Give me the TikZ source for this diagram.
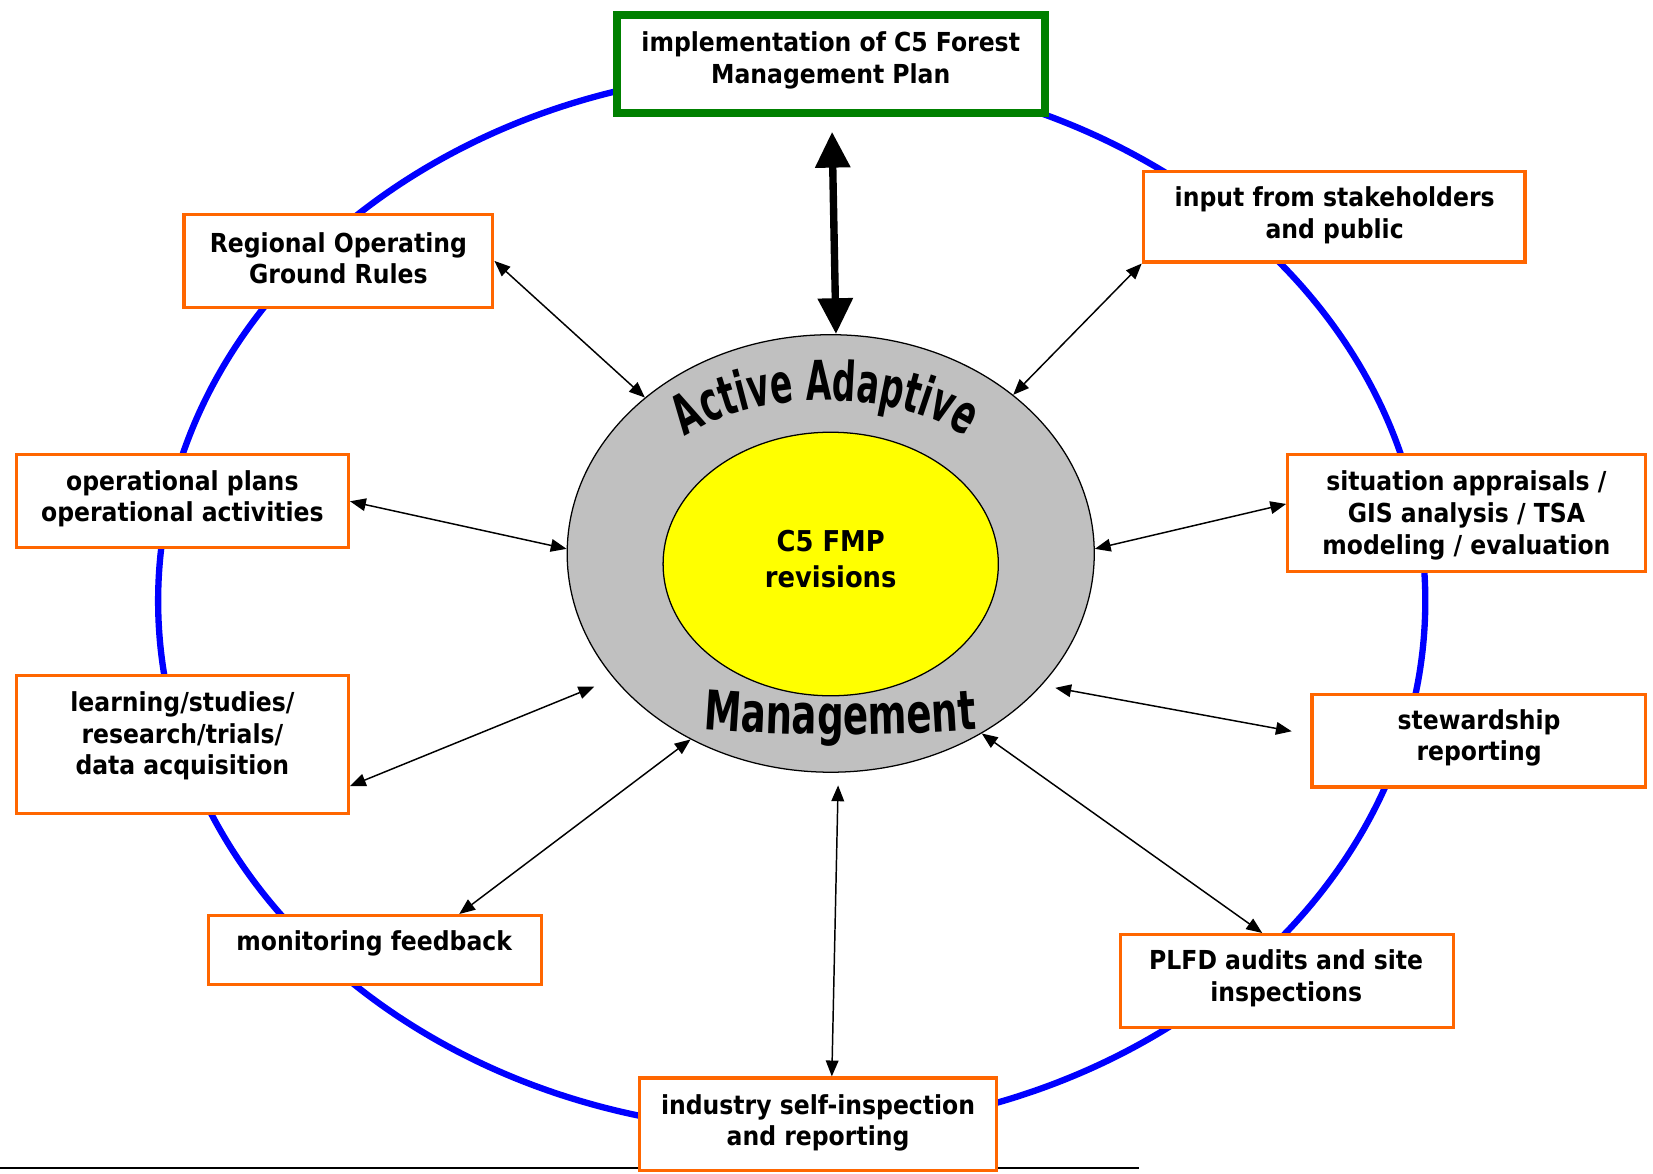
\documentclass[tikz,border=0pt]{standalone}
\usepackage{fontspec}
\setmainfont{DejaVu Sans Condensed}
\newfontfamily\waA{DejaVu Sans Condensed}[FakeStretch=0.67]
\newfontfamily\waB{DejaVu Sans Condensed}[FakeStretch=0.755]
\usetikzlibrary{arrows.meta,shapes.geometric,decorations.text}
\definecolor{orangeC}{HTML}{FF6600}
\definecolor{greenC}{HTML}{008000}
\definecolor{blueC}{HTML}{0000FF}
\definecolor{grayC}{HTML}{C0C0C0}
\definecolor{yellowC}{HTML}{FFFF00}
\newcommand\myLblFont{\bfseries\fontsize{12.4}{15}\selectfont}
\newcommand\myCenFont{\bfseries\fontsize{13.6}{17}\selectfont}
\tikzset{
  obox/.style={draw=orangeC, line width=1.5pt, fill=white, inner sep=0pt},
  gbox/.style={draw=greenC, line width=3.8pt, fill=white, inner sep=0pt},
  lbl/.style={align=center, font=\myLblFont, inner sep=0pt},
  biarrow/.style={line width=0.7pt, {Triangle[length=7.5pt,width=6pt]}-{Triangle[length=7.5pt,width=6pt]}},
  bigarrow/.style={line width=3.5pt, {Triangle[length=17pt,width=16pt]}-{Triangle[length=17pt,width=16pt]}},
}
\begin{document}
\begin{tikzpicture}[x=0.5pt,y=0.5pt]
\useasboundingbox (0,0) rectangle (1568,-1113);
% outer blue cycle
\draw[blueC, line width=3pt] (751,-570) ellipse [x radius=601, y radius=503];
% bottom rule
\coordinate (ruleL) at (0,-1108);
\coordinate (ruleR) at (1080,-1108);
\draw[line width=1pt] (ruleL) -- (ruleR);
% boxes
\node[gbox, minimum width=203.2pt, minimum height=46.7pt] (green) at (788,-60.5) {};
\node[lbl] (greenT) at (788,-57) {implementation of C5 Forest\\Management Plan};
\node[obox, minimum width=181pt, minimum height=43pt] (inp) at (1265.5,-205.5) {};
\node[lbl] (inpT) at (1266,-204) {input from stakeholders\\and public};
\node[obox, minimum width=146.5pt, minimum height=44pt] (reg) at (321,-247.5) {};
\node[lbl] (regT) at (321,-245) {Regional Operating\\Ground Rules};
\node[obox, minimum width=157.5pt, minimum height=44pt] (op) at (173,-475.5) {};
\node[lbl] (opT) at (173,-473) {operational plans\\operational activities};
\node[obox, minimum width=169.5pt, minimum height=55.5pt] (sit) at (1391,-487) {};
\node[lbl] (sitT) at (1391,-489) {situation appraisals /\\GIS analysis / TSA\\modeling / evaluation};
\node[obox, minimum width=157.5pt, minimum height=65.5pt] (learn) at (173,-706) {};
\node[lbl] (learnT) at (173,-698) {learning/studies/\\research/trials/\\data acquisition};
\node[obox, minimum width=158pt, minimum height=44pt] (stew) at (1402.5,-702.5) {};
\node[lbl] (stewT) at (1403,-700) {stewardship\\reporting};
\node[obox, minimum width=158pt, minimum height=32.5pt] (mon) at (355.5,-901) {};
\node[lbl] (monT) at (355,-895) {monitoring feedback};
\node[obox, minimum width=158pt, minimum height=44pt] (plfd) at (1220.5,-930.5) {};
\node[lbl] (plfdT) at (1220,-928) {PLFD audits and site\\inspections};
\node[obox, minimum width=169.5pt, minimum height=44pt] (ind) at (776,-1066.5) {};
\node[lbl] (indT) at (776,-1065) {industry self-inspection\\and reporting};
% central ellipses
\node[ellipse, draw, line width=0.6pt, fill=grayC, minimum width=250pt, minimum height=207.5pt, inner sep=0pt] (gray) at (788,-525) {};
\node[ellipse, draw, line width=0.6pt, fill=yellowC, minimum width=159pt, minimum height=125pt, inner sep=0pt] (yel) at (788,-535) {};
\node[align=center, font=\myCenFont, inner sep=0pt] (c5t) at (788,-530) {C5 FMP\\revisions};
% arched texts
\path[decorate, decoration={text along path, text align=center,
  text={|\waA\bfseries\fontsize{26}{26}\selectfont|Active Adaptive}}]
  ([shift={(783,-470)}]160:170 and 90) arc[start angle=160, end angle=20, x radius=170, y radius=90];
\path[decorate, decoration={text along path, text align=center,
  text={|\waB\bfseries\fontsize{26}{26}\selectfont|Management}}]
  (647,-690) .. controls (737,-699) and (857,-699) .. (947,-690);
% connectors
\draw[bigarrow, shorten <=7pt] ([xshift=0.5pt]green.south) -- ([xshift=2.5pt]gray.north);
\draw[biarrow] (reg.east) -- (gray.140);
\draw[biarrow] (inp.south west) -- (gray.41);
\draw[biarrow] (op.east) -- (gray.179);
\draw[biarrow] (sit.177) -- (gray.1);
\draw[biarrow, shorten >=10pt] (learn.-14) -- (gray.210);
\draw[biarrow] (mon.23) -- (gray.233);
\draw[biarrow, shorten >=6pt] (ind.74) -- (gray.272);
\draw[biarrow] (plfd.117) -- (gray.310);
\draw[biarrow, shorten <=9pt, shorten >=6.5pt] (stew.178) -- (gray.328);
\end{tikzpicture}
\end{document}
